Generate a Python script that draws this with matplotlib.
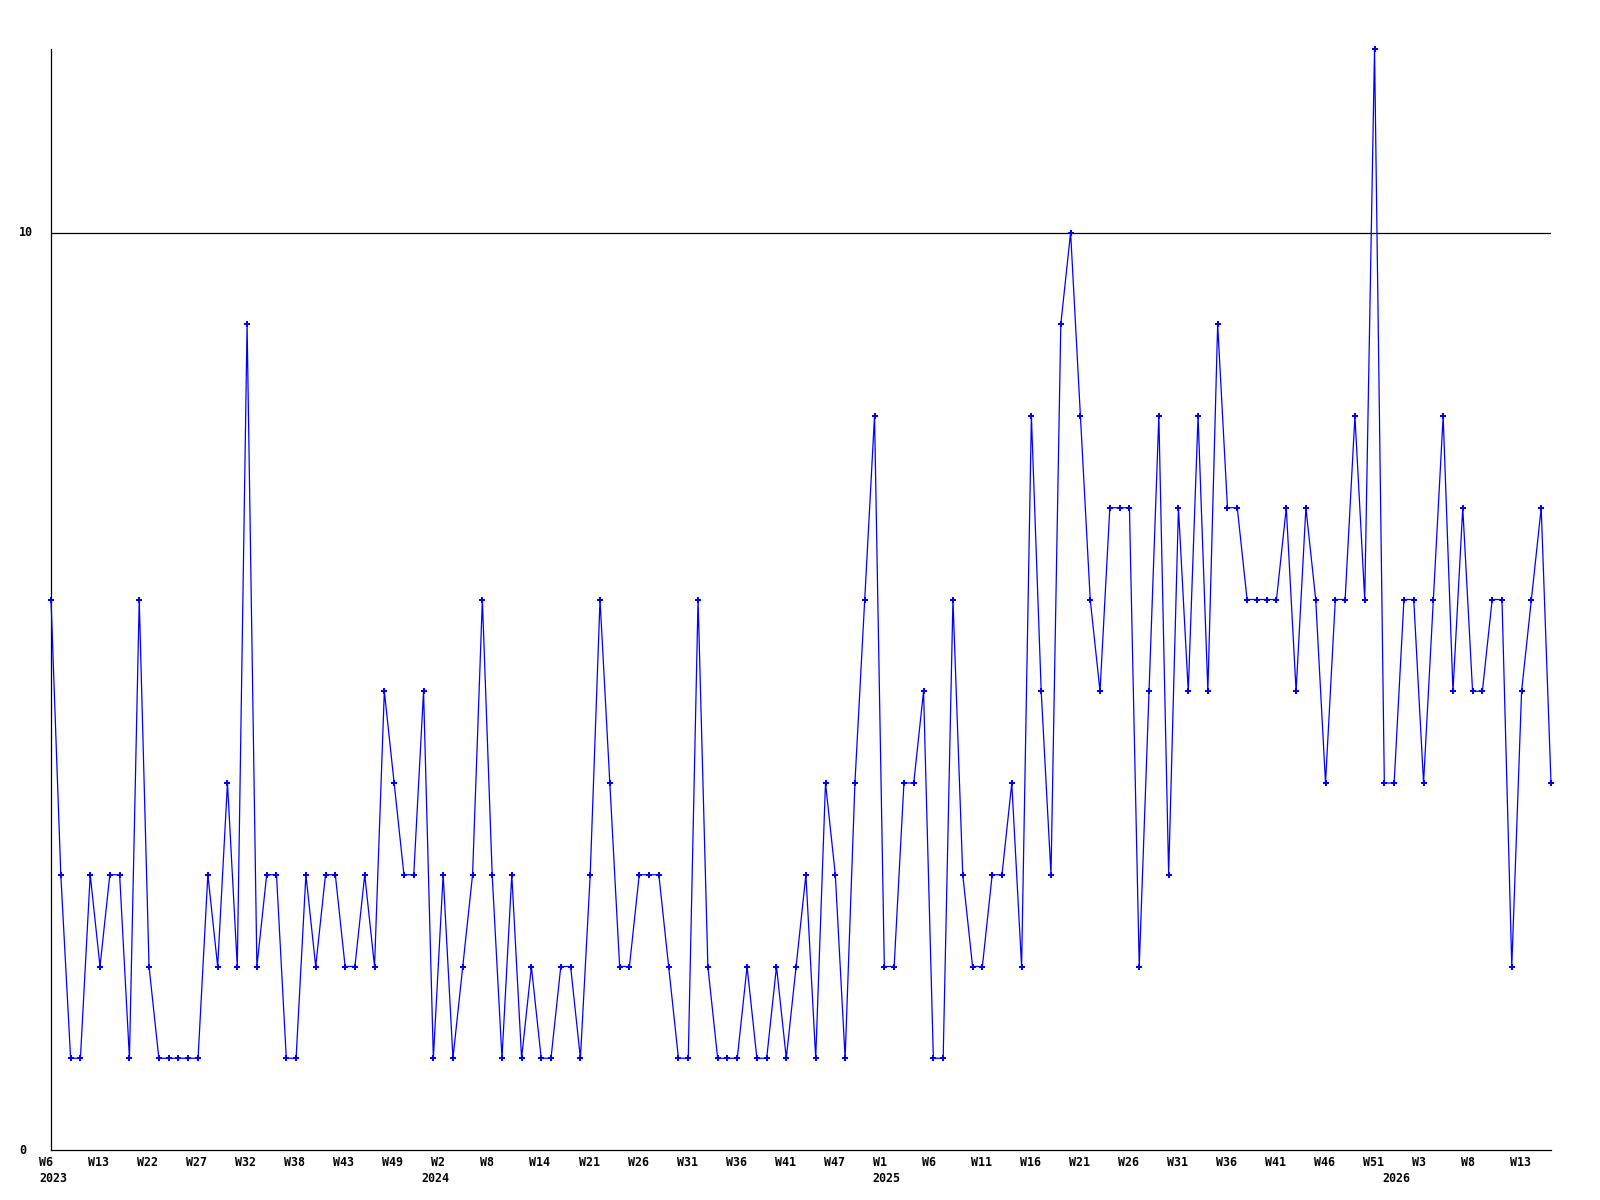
import matplotlib
matplotlib.use("Agg")
import matplotlib.pyplot as plt
import matplotlib.transforms as mtransforms
import numpy as np

# ---- data ----
values = [
    6, 3, 1, 1, 3, 2, 3, 3, 1, 6, 2, 1, 1, 1, 1, 1, 3, 2, 4, 2, 9, 2, 3, 3, 1, 1,
    3, 2, 3, 3, 2, 2, 3, 2, 5, 4, 3, 3, 5, 1, 3, 1, 2, 3, 6, 3, 1, 3, 1, 2, 1, 1,
    2, 2, 1, 3, 6, 4, 2, 2, 3, 3, 3, 2, 1, 1, 6, 2, 1, 1, 1, 2, 1, 1, 2, 1, 2,
    3, 1, 4, 3, 1, 4, 6, 8, 2, 2, 4, 4, 5, 1, 1, 6, 3, 2, 2, 3, 3, 4, 2, 8, 5, 3,
    9, 10, 8, 6, 5, 7, 7, 7, 2, 5, 8, 3, 7, 5, 8, 5, 9, 7, 7, 6, 6, 6, 6, 7, 5,
    7, 6, 4, 6, 6, 8, 6, 12, 4, 4, 6, 6, 4, 6, 8, 5, 7, 5, 5, 6, 6, 2, 5, 6, 7, 4,
]
week_labels = ["W6", "W13", "W22", "W27", "W32", "W38", "W43", "W49", "W2", "W8",
               "W14", "W21", "W26", "W31", "W36", "W41", "W47", "W1", "W6", "W11",
               "W16", "W21", "W26", "W31", "W36", "W41", "W46", "W51", "W3", "W8",
               "W13"]
week_label_step = 5
year_labels = ["2023", "2024", "2025", "2026"]
year_label_index = [0, 39, 85, 137]
y_ticks = [0, 10]
y_max = 12

# ---- figure ----
W, H = 1600, 1200
fig = plt.figure(figsize=(16, 12), dpi=100)
left, right, top, bottom = 51, 1551, 49, 1150
ax = fig.add_axes([left / W, (H - bottom) / H, (right - left) / W, (bottom - top) / H])

x = np.arange(len(values))
ax.plot(x, values, color="#0000FF", lw=0.9, marker="P", ms=4.5, mew=0,
        mfc="#0000FF", zorder=3, clip_on=False)

ax.set_xlim(0, len(values) - 1)
ax.set_ylim(0, y_max)
for s in ["top", "right"]:
    ax.spines[s].set_visible(False)
for s in ["left", "bottom"]:
    ax.spines[s].set_color("black")
    ax.spines[s].set_linewidth(0.9)
ax.set_xticks([])
ax.set_yticks([])

# horizontal guide line at 10
ax.axhline(10, color="black", lw=0.9, zorder=2)

font = dict(family="DejaVu Sans Mono", fontweight="bold", fontsize=8.4, color="black")

# y labels, left-aligned at fixed x position
ytrans = mtransforms.blended_transform_factory(fig.transFigure, ax.transData)
for v in y_ticks:
    ax.text(19.3 / W, v, str(v), transform=ytrans, ha="left", va="center", **font)

# x labels
base = mtransforms.blended_transform_factory(ax.transData, ax.transAxes)
wk_trans = base + mtransforms.ScaledTranslation(-11.7 / 100, -12.8 / 100, fig.dpi_scale_trans)
yr_trans = base + mtransforms.ScaledTranslation(-11.7 / 100, -28.6 / 100, fig.dpi_scale_trans)
for k, lab in enumerate(week_labels):
    ax.text(k * week_label_step, 0, lab, transform=wk_trans, ha="left", va="center",
            clip_on=False, **font)
for idx, lab in zip(year_label_index, year_labels):
    ax.text(idx, 0, lab, transform=yr_trans, ha="left", va="center", clip_on=False, **font)

fig.savefig("out.png", dpi=100, facecolor="white")
